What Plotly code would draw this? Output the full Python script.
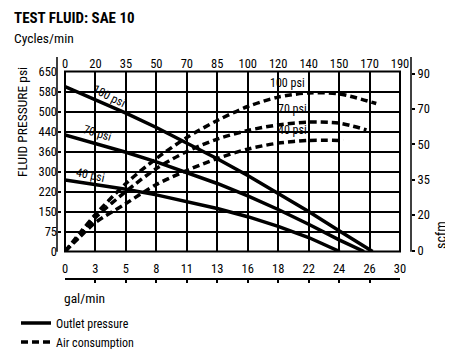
import plotly.graph_objects as go

# ---- tick labels ----
gal_min_labels = ['0', '3', '5', '8', '11', '13', '16', '18', '22', '24', '26', '30']
cycles_labels = ['0', '20', '35', '50', '70', '85', '100', '120', '140', '150', '170', '190']
psi_labels = ['0', '75', '150', '220', '300', '360', '440', '500', '580', '650']
scfm_labels = ['0', '20', '35', '50', '70', '90']

# ---- series (positions on the chart grid: x = gal/min grid step, y = psi grid step) ----
out100_x = [0, 1, 2, 3, 4, 5, 6, 7, 8, 9, 10.1]
out100_y = [8.25, 7.6, 6.92, 6.2, 5.44, 4.64, 3.8, 2.92, 2.0, 1.04, 0]
out70_x = [0, 1, 2, 3, 4, 5, 6, 7, 8, 9, 9.82]
out70_y = [5.83, 5.41, 4.96, 4.48, 3.96, 3.4, 2.78, 2.1, 1.36, 0.58, 0]
out40_x = [0, 1, 2, 3, 4, 5, 6, 7, 8, 9.02]
out40_y = [3.58, 3.36, 3.11, 2.83, 2.51, 2.15, 1.74, 1.26, 0.7, 0]

air100_x = [0, 0.5, 1, 2, 3, 4, 5, 6, 7, 8, 9, 10.22]
air100_y = [0, 0.95, 1.85, 3.4, 4.65, 5.7, 6.55, 7.25, 7.72, 7.93, 7.88, 7.4]
air70_x = [0, 0.5, 1, 2, 3, 4, 5, 6, 7, 8, 9, 9.9]
air70_y = [0, 0.85, 1.7, 3.0, 4.15, 5.0, 5.62, 6.05, 6.33, 6.47, 6.42, 6.08]
air40_x = [0, 0.5, 1, 2, 3, 4, 5, 6, 7, 8, 9.13]
air40_y = [0, 0.75, 1.45, 2.4, 3.35, 4.05, 4.65, 5.12, 5.42, 5.55, 5.55]

FONT = "Roboto Condensed, Roboto, Liberation Sans Narrow, Arial Narrow, sans-serif"
OFF = 8  # page body margin
W, H = 453 - OFF, 349 - OFF
ML, MR, MT, MB = 49, 42, 52, 70
PW, PH = W - ML - MR, H - MT - MB


def px(x):
    """page pixel x -> paper fraction"""
    return (x - OFF - ML) / PW


def py(y):
    """page pixel y -> paper fraction"""
    return (H - MB - (y - OFF)) / PH


fig = go.Figure()

solid = dict(color='black', width=3.5)
dashed = dict(color='black', width=3.5, dash='7px,4px', shape='spline', smoothing=0.8)

fig.add_trace(go.Scatter(x=out100_x, y=out100_y, mode='lines', line=solid,
                         name='Outlet pressure', showlegend=True, legendrank=1))
fig.add_trace(go.Scatter(x=out70_x, y=out70_y, mode='lines', line=solid, showlegend=False))
fig.add_trace(go.Scatter(x=out40_x, y=out40_y, mode='lines', line=solid, showlegend=False))
fig.add_trace(go.Scatter(x=air100_x, y=air100_y, mode='lines', line=dashed,
                         name='Air consumption', showlegend=True, legendrank=2))
fig.add_trace(go.Scatter(x=air70_x, y=air70_y, mode='lines', line=dashed, showlegend=False))
fig.add_trace(go.Scatter(x=air40_x, y=air40_y, mode='lines', line=dashed, showlegend=False))

nx = len(gal_min_labels)
ny = len(psi_labels)
xdom = [px(65), px(400)]
ydom = [py(251.5), py(71.5)]
tickfont = dict(family=FONT, size=12.5, color='black')

scfm_pos = [0.05 + i * (8.9 - 0.05) / (len(scfm_labels) - 1) for i in range(len(scfm_labels))]

fig.update_layout(
    width=W, height=H,
    margin=dict(l=ML, r=MR, t=MT, b=MB, autoexpand=False),
    paper_bgcolor='white', plot_bgcolor='white',
    font=dict(family=FONT, size=12.5, color='black'),
    xaxis=dict(domain=xdom, range=[0, nx - 1], tickvals=list(range(nx)),
               showticklabels=False, ticks='', showgrid=True, gridcolor='black',
               gridwidth=2, zeroline=False, showline=False, anchor='y'),
    xaxis2=dict(overlaying='x', side='top', anchor='y', range=[0, nx - 1],
                tickvals=list(range(nx)), ticktext=cycles_labels, showgrid=False,
                zeroline=False, ticks='', tickfont=tickfont, showline=False),
    xaxis3=dict(overlaying='x', side='top', anchor='free', position=0, range=[0, nx - 1],
                tickvals=list(range(nx)), ticktext=gal_min_labels, showgrid=False,
                zeroline=False, ticks='inside', ticklen=3, tickwidth=1.5, tickcolor='black',
                showline=True, linecolor='black', linewidth=1.5, tickfont=tickfont),
    yaxis=dict(domain=ydom, range=[0, ny - 1], tickvals=list(range(ny)), ticktext=psi_labels,
               anchor='free', position=0, side='left', showgrid=True, gridcolor='black',
               gridwidth=2, zeroline=False, ticks='inside', ticklen=3, tickwidth=1.5,
               tickcolor='black', showline=False, tickfont=tickfont),
    yaxis2=dict(overlaying='y', side='right', anchor='free', position=1, range=[0, ny - 1],
                tickvals=scfm_pos, ticktext=scfm_labels, showgrid=False, zeroline=False,
                ticks='outside', ticklen=3, tickwidth=1.5, tickcolor='black',
                showline=False, tickfont=tickfont),
    legend=dict(x=px(16), y=py(308.5), xanchor='left', yanchor='top',
                font=dict(family=FONT, size=12, color='black'), bgcolor='rgba(0,0,0,0)',
                tracegroupgap=0),
    showlegend=True,
)

# invisible traces to activate the secondary axes
fig.add_trace(go.Scatter(x=[0], y=[0], xaxis='x2', yaxis='y', mode='markers',
                         marker=dict(opacity=0), showlegend=False, hoverinfo='skip'))
fig.add_trace(go.Scatter(x=[0], y=[0], xaxis='x3', yaxis='y', mode='markers',
                         marker=dict(opacity=0), showlegend=False, hoverinfo='skip'))
fig.add_trace(go.Scatter(x=[0], y=[0], xaxis='x', yaxis='y2', mode='markers',
                         marker=dict(opacity=0), showlegend=False, hoverinfo='skip'))

# frame and side axis lines
fig.add_shape(type='rect', xref='x domain', yref='y domain', x0=0, x1=1, y0=0, y1=1,
              line=dict(color='black', width=2))
for xp in (0, 1):
    fig.add_shape(type='line', xref='paper', yref='paper', x0=xp, x1=xp,
                  y0=py(251.7), y1=py(57), line=dict(color='black', width=1.5))


def ann(text, x, y, size=13, angle=0, xanchor='center', yanchor='middle', bold=False):
    fig.add_annotation(text=f"<b>{text}</b>" if bold else text, x=px(x), y=py(y),
                       xref='paper', yref='paper', showarrow=False, textangle=angle,
                       xanchor=xanchor, yanchor=yanchor,
                       font=dict(family=FONT, size=size, color='black'))


ann('TEST FLUID: SAE 10', 12, 17.5, size=15, xanchor='left', bold=True)
ann('Cycles/min', 12, 37.5, size=13.5, xanchor='left')
ann('FLUID PRESSURE psi', 22, 122, size=13.5, angle=-90)
ann('scfm', 441, 235, size=14, angle=-90)
ann('gal/min', 62, 298, size=13.5, xanchor='left')

# curve labels
ann('100 psi', 109, 96, size=12, angle=27)
ann('70 psi', 97, 133, size=12, angle=17)
ann('40 psi', 90, 175, size=12, angle=12)
ann('100 psi', 287, 83, size=12)
ann('70 psi', 292, 109, size=12)
ann('40 psi', 292, 130, size=12)

fig.write_html("out.html")
